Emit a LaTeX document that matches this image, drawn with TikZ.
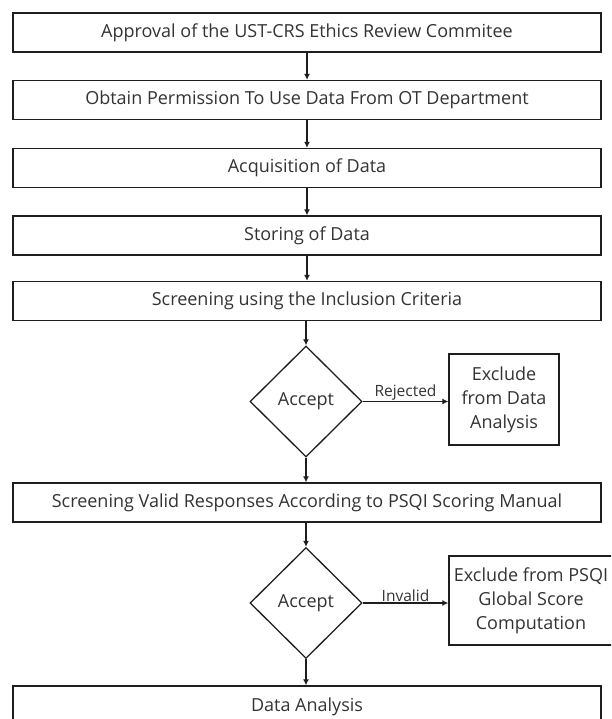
\documentclass[tikz,border=0pt]{standalone}
\usepackage{fontspec}
\setmainfont{Open Sans}
\usetikzlibrary{shapes.geometric,arrows.meta}
\definecolor{txt}{HTML}{333333}
\definecolor{ln}{HTML}{1E1E1E}
\begin{document}
\begin{tikzpicture}[x=1pt,y=-1pt,
  proc/.style={draw=ln, line width=1.3pt, rectangle, minimum width=588pt, minimum height=39pt, inner sep=0pt, text=txt, font=\fontsize{18}{21}\selectfont},
  dec/.style={draw=ln, line width=1.3pt, diamond, minimum width=112pt, minimum height=111pt, inner sep=0pt, text=txt, font=\fontsize{18}{21}\selectfont},
  side/.style={draw=ln, line width=1.3pt, rectangle, inner sep=0pt, align=center, text=txt, font=\fontsize{18}{24}\selectfont},
  arr/.style={draw=ln, line width=1.3pt, -{Latex[length=6pt,width=6pt]}},
  lab/.style={text=txt, font=\fontsize{15.5}{17}\selectfont, inner sep=1pt}]
\useasboundingbox (0,0) rectangle (611,719);
\clip (0,0) rectangle (611,719);
\node[proc] (b1) at (307,32.5) {Approval of the UST-CRS Ethics Review Commitee};
\node[proc] (b2) at (307,100) {Obtain Permission To Use Data From OT Department};
\node[proc] (b3) at (307,168) {Acquisition of Data};
\node[proc] (b4) at (307,235.5) {Storing of Data};
\node[proc] (b5) at (307,301) {Screening using the Inclusion Criteria};
\node[dec] (d1) at (306,401.5) {Accept};
\node[side, minimum width=110pt, minimum height=91pt] (e1) at (504,399.5) {Exclude\\from Data\\Analysis};
\node[proc] (b6) at (307,502.5) {Screening Valid Responses According to PSQI Scoring Manual};
\node[dec] (d2) at (306,603) {Accept};
\node[side, minimum width=164pt, minimum height=89pt] (e2) at (531,600.5) {Exclude from PSQI\\Global Score\\Computation};
\node[proc, minimum height=42pt] (b7) at (307,707) {Data Analysis};
\draw[arr] (b1.south) -- (b2.north);
\draw[arr] (b2.south) -- (b3.north);
\draw[arr] (b3.south) -- (b4.north);
\draw[arr] (b4.south) -- (b5.north);
\draw[arr] (b5.south -| d1.north) -- (d1.north);
\draw[arr] (d1.south) -- (d1.south |- b6.north);
\draw[arr] (b6.south -| d2.north) -- (d2.north);
\draw[arr] (d2.south) -- (d2.south |- b7.north);
\draw[arr] (d1.east) -- node[lab, above] (rej) {Rejected} (d1.east -| e1.west);
\draw[arr] (d2.east) -- node[lab, above] (inv) {Invalid} (d2.east -| e2.west);
\end{tikzpicture}
\end{document}
